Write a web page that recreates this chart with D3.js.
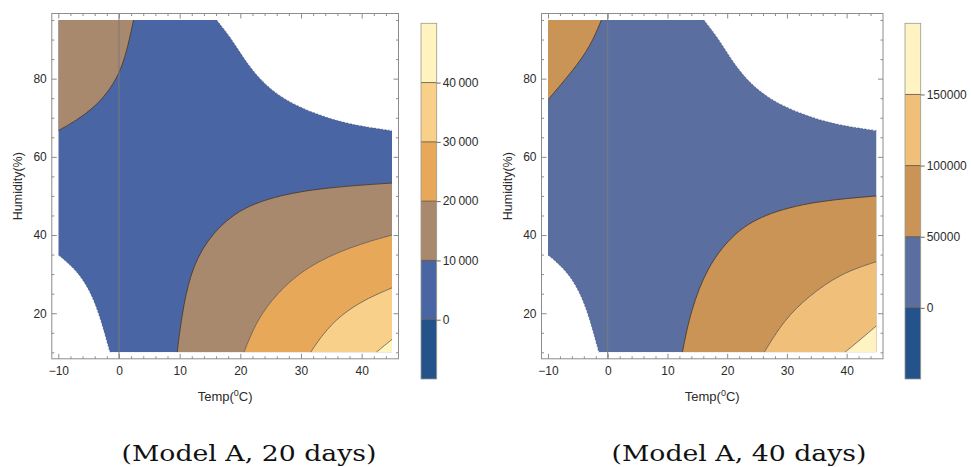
<!DOCTYPE html>
<html>
<head>
<meta charset="utf-8">
<script src="https://cdn.jsdelivr.net/npm/d3@7"></script>
<style>
  body { margin: 0; background: #fff; }
  text { font-family: "Liberation Sans", Arial, sans-serif; }
</style>
</head>
<body>
<div id="chart"></div>
<script>
// axes
const tempTicks = [-10, 0, 10, 20, 30, 40];
const humTicks = [20, 40, 60, 80];
const tempExtent = [-10, 45];
const humExtent = [10, 95];

// white corners (outside the model), same in both panels
const edgeTopRight = [[16.1, 95], [18.3, 90.8], [20.5, 85.3], [23.2, 79.7], [27.1, 74.6], [32.6, 70.8], [38.1, 68.2], [45, 66.7]];
const edgeBottomLeft = [[-10, 34.9], [-7.0, 31.0], [-4.8, 25.9], [-3.1, 19.1], [-1.5, 10]];

// Model A, 20 days
const levels20 = [-10000, 0, 10000, 20000, 30000, 40000, 50000];
const labels20 = ["0", "10\u2009000", "20\u2009000", "30\u2009000", "40\u2009000"];
const corner20 = [[-10, 66.7], [-7, 69.3], [-4, 72.8], [-2, 76.2], [0, 81], [1.3, 87], [2.4, 95]];
const lines20 = [
  [[9.6, 10], [10.3, 19], [11.7, 30.2], [14.4, 38.7], [18.8, 45.6], [24.3, 49.4], [32.6, 52], [45, 53.3]],
  [[20.6, 10], [22.7, 18.2], [26, 25.1], [30.9, 31.9], [38.1, 37], [45, 40]],
  [[31.6, 10], [33.5, 14.5], [36.5, 19.5], [40.5, 23.5], [45, 26.5]],
  [[42.4, 10], [43.8, 11.8], [45, 13.3]]
];

// Model A, 40 days
const levels40 = [-50000, 0, 50000, 100000, 150000, 200000];
const labels40 = ["0", "50000", "100000", "150000"];
const corner40 = [[-10, 74.6], [-5.7, 82.3], [-2.9, 88.3], [-1.06, 95]];
const lines40 = [
  [[12.5, 10], [13.9, 20.8], [16.7, 31.9], [20.6, 39.6], [25.1, 44.7], [33.5, 48.5], [45, 50]],
  [[26.2, 10], [29.5, 18.2], [33.5, 24.2], [39, 30.2], [45, 33.2]],
  [[39.7, 10], [42.5, 13.5], [45, 16.8]]
];

const colors20 = ["#24528a", "#4a65a3", "#a8896e", "#e8a85a", "#f8d08a", "#fff3c0"];
const colors40 = ["#24528a", "#5a6ea0", "#c99455", "#f0c07a", "#fff3c4"];

const svg = d3.select("#chart")
  .append("svg")
  .attr("width", 971)
  .attr("height", 467);

function panel(o) {
  const g = svg.append("g");
  const x = d3.scaleLinear().domain(tempExtent).range(o.xr);
  const y = d3.scaleLinear().domain(humExtent).range([352.3, 20]);
  const pad = 6.5;
  const fx0 = o.xr[0] - pad, fx1 = o.xr[1] + pad, fy0 = 20 - pad, fy1 = 352.3 + pad;

  const line = d3.line().x(d => x(d[0])).y(d => y(d[1])).curve(d3.curveBasis);
  const P = (t, h) => `${x(t)},${y(h)}`;
  const tail = pts => "L" + line(pts).slice(1);

  const domainPath = `M${P(-10, 95)}` + tail(edgeTopRight) + `L${P(45, 10)}` +
    tail(edgeBottomLeft.slice().reverse()) + "Z";

  g.append("clipPath").attr("id", o.id)
    .append("path").attr("d", domainPath);

  const fills = g.append("g").attr("clip-path", `url(#${o.id})`);

  fills.append("path").attr("d", domainPath).attr("fill", o.colors[1]);

  fills.append("path")
    .attr("d", line(o.corner) + `L${P(-10, 95)}Z`)
    .attr("fill", o.colors[2]);

  o.lines.forEach((pts, k) => {
    fills.append("path")
      .attr("d", line(pts) + `L${P(45, 10)}Z`)
      .attr("fill", o.colors[k + 2]);
  });

  fills.selectAll(".contour")
    .data([o.corner].concat(o.lines))
    .enter().append("path")
    .attr("d", line)
    .attr("fill", "none")
    .attr("stroke", (d, i) => i < 2 ? "#4a3a2a" : "#6a6058")
    .attr("stroke-opacity", 0.85)
    .attr("stroke-width", 1);

  // ragged edge of the white corners
  [edgeTopRight, edgeBottomLeft].forEach(e => {
    g.append("path")
      .attr("d", line(e))
      .attr("fill", "none")
      .attr("stroke", "#2c3e6e")
      .attr("stroke-width", 0.8)
      .attr("stroke-dasharray", "2,1.5")
      .attr("stroke-opacity", 0.7);
  });

  // axis at T = 0
  g.append("line")
    .attr("x1", x(0)).attr("x2", x(0))
    .attr("y1", fy0).attr("y2", fy1)
    .attr("stroke", "#7a7a7a")
    .attr("stroke-width", 1);

  // frame
  g.append("rect")
    .attr("x", fx0).attr("y", fy0)
    .attr("width", fx1 - fx0).attr("height", fy1 - fy0)
    .attr("fill", "none")
    .attr("stroke", "#8c8c8c")
    .attr("stroke-width", 1);

  const minorT = d3.range(-10, 45, 2).filter(v => v % 10 !== 0);
  const minorH = d3.range(10, 96, 5).filter(v => v % 20 !== 0);

  const sides = [
    [d3.axisBottom, x, `translate(0,${fy1})`, tempTicks, minorT, true],
    [d3.axisTop, x, `translate(0,${fy0})`, tempTicks, minorT, false],
    [d3.axisLeft, y, `translate(${fx0},0)`, humTicks, minorH, true],
    [d3.axisRight, y, `translate(${fx1},0)`, humTicks, minorH, false]
  ];
  sides.forEach(([axis, sc, tr, major, minor, labels]) => {
    g.append("g").attr("transform", tr)
      .call(axis(sc).tickValues(minor).tickSize(-2.5).tickFormat(""))
      .call(a => a.select(".domain").remove())
      .selectAll("line").attr("stroke", "#8c8c8c");
    const ga = g.append("g").attr("transform", tr)
      .call(axis(sc).tickValues(major).tickSize(-5).tickPadding(axis === d3.axisBottom ? 8 : 5)
        .tickFormat(labels ? d3.format("") : ""))
      .call(a => a.select(".domain").remove());
    ga.selectAll("line").attr("stroke", "#8c8c8c");
    ga.selectAll("text").attr("fill", "#2b2b2b").style("font-size", "12px");
  });

  // axis titles
  const tl = g.append("text")
    .attr("x", (fx0 + fx1) / 2).attr("y", 401)
    .attr("text-anchor", "middle")
    .attr("fill", "#2b2b2b")
    .style("font-size", "13px");
  tl.append("tspan").text("Temp(");
  tl.append("tspan").text("0").attr("dy", -5).style("font-size", "9px");
  tl.append("tspan").text("C)").attr("dy", 5);

  g.append("text")
    .attr("transform", `translate(${fx0 - 30},${(fy0 + fy1) / 2}) rotate(-90)`)
    .attr("text-anchor", "middle")
    .attr("fill", "#2b2b2b")
    .style("font-size", "12.5px")
    .text("Humidity(%)");

  // colour bar
  const cy = d3.scaleLinear()
    .domain([o.levels[0], o.levels[o.levels.length - 1]])
    .range([379, 23.3]);
  const cb = g.append("g").attr("transform", `translate(${o.cbx},0)`);
  cb.selectAll("rect.band")
    .data(o.colors)
    .enter().append("rect")
    .attr("class", "band")
    .attr("x", 0)
    .attr("width", 15.7)
    .attr("y", (d, i) => cy(o.levels[i + 1]))
    .attr("height", (d, i) => cy(o.levels[i]) - cy(o.levels[i + 1]))
    .attr("fill", d => d);
  cb.selectAll("line.sep")
    .data(o.levels.slice(1, -1))
    .enter().append("line")
    .attr("class", "sep")
    .attr("x1", 0).attr("x2", 15.7)
    .attr("y1", cy).attr("y2", cy)
    .attr("stroke", "#5a4a3a")
    .attr("stroke-opacity", 0.8);
  cb.append("rect")
    .attr("x", 0).attr("y", cy.range()[1])
    .attr("width", 15.7).attr("height", cy.range()[0] - cy.range()[1])
    .attr("fill", "none")
    .attr("stroke", "#9a9a8a")
    .attr("stroke-width", 0.8);
  const ca = cb.append("g").attr("transform", "translate(15.7,0)")
    .call(d3.axisRight(cy).tickValues(o.levels.slice(1, -1))
      .tickFormat((d, i) => o.labels[i]).tickSize(4).tickPadding(2))
    .call(a => a.select(".domain").remove());
  ca.selectAll("line").attr("stroke", "#666");
  ca.selectAll("text").attr("fill", "#2b2b2b").style("font-size", "12px");

  // caption
  svg.append("text")
    .attr("x", o.cap).attr("y", 461)
    .attr("text-anchor", "middle")
    .attr("textLength", 255)
    .attr("lengthAdjust", "spacingAndGlyphs")
    .attr("fill", "#111")
    .style("font-family", "'DejaVu Serif', serif")
    .style("font-size", "22px")
    .text(o.caption);
}

panel({ id: "clip20", xr: [58.3, 392], cbx: 421, cap: 249, levels: levels20, labels: labels20,
  colors: colors20, corner: corner20, lines: lines20, caption: "(Model A, 20 days)" });
panel({ id: "clip40", xr: [548, 876.5], cbx: 905, cap: 739, levels: levels40, labels: labels40,
  colors: colors40, corner: corner40, lines: lines40, caption: "(Model A, 40 days)" });
</script>
</body>
</html>
